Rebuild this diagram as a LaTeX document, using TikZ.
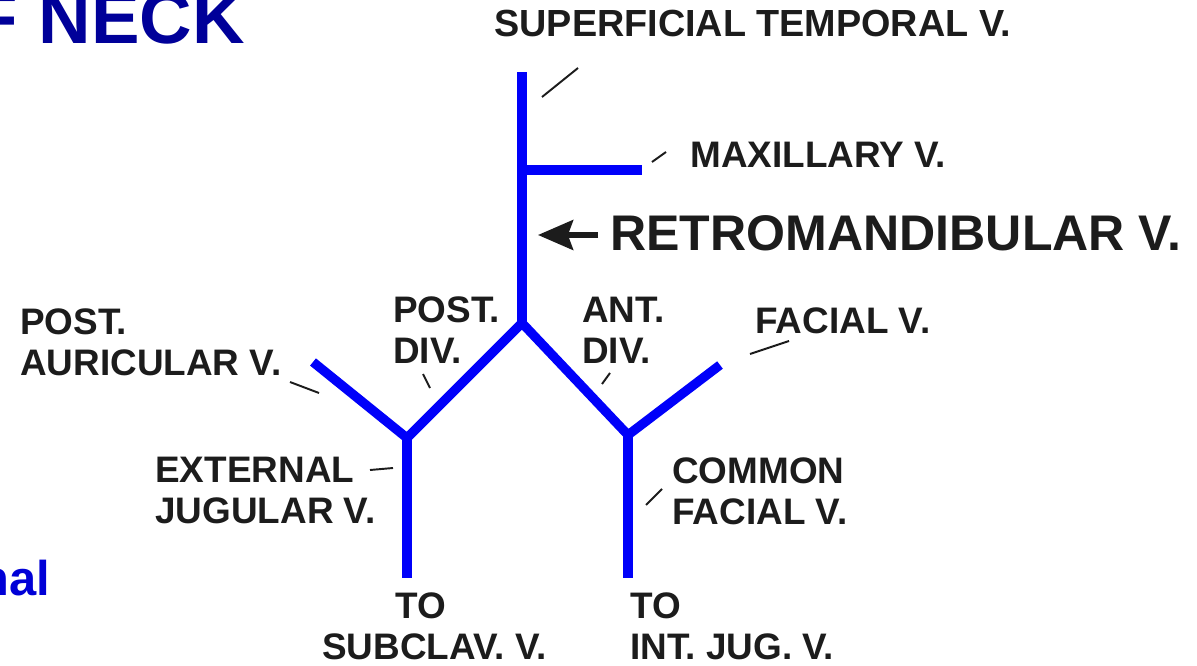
\documentclass[tikz,border=0pt]{standalone}
\usepackage{fontspec}
\setmainfont{Liberation Sans}
\usetikzlibrary{arrows.meta}

\definecolor{vena}{RGB}{0,0,250}
\definecolor{tinta}{RGB}{28,28,28}
\definecolor{titulo}{RGB}{0,0,153}
\definecolor{titulodos}{RGB}{0,0,215}

\begin{document}
\begin{tikzpicture}[x=0.02cm, y=-0.02cm,
	every node/.style={inner sep=0pt, text=tinta, font=\bfseries\fontsize{21pt}{23.2pt}\selectfont},
	rotulo/.style={anchor=base west, align=left},
	grande/.style={font=\bfseries\fontsize{28.5pt}{32pt}\selectfont},
	vena/.style={draw=vena, line width=5.3pt, line join=round},
	guia/.style={draw=tinta, line width=1.1pt}]
	\useasboundingbox (0,0) rectangle (1197,666);
	\clip (0,0) rectangle (1197,666);
	\fill[white] (0,0) rectangle (1197,666);
	% titulos cortados
	\node[anchor=base east, text=titulo, font=\bfseries\fontsize{41.4pt}{45pt}\selectfont] (titulo) at (245,43) {OF NECK};
	\node[anchor=base west, text=titulodos, font=\bfseries\fontsize{27.8pt}{30pt}\selectfont] (pie) at (-21,595) {nal};
	% venas
	\coordinate (tope) at (522,72);
	\coordinate (raizMax) at (522,170);
	\coordinate (extMax) at (642,170);
	\coordinate (tronco) at (522,323);
	\coordinate (juntaIzq) at (407,438);
	\coordinate (juntaDer) at (628,435);
	\coordinate (extAur) at (313,362);
	\coordinate (extFacial) at (720,365);
	\coordinate (finIzq) at (407,578);
	\coordinate (finDer) at (628,578);
	\draw[vena] (tope) -- (tronco);
	\draw[vena] (raizMax) -- (extMax);
	\draw[vena] (extAur) -- (juntaIzq) -- (tronco) -- (juntaDer) -- (extFacial);
	\draw[vena] (juntaIzq) -- (finIzq);
	\draw[vena] (juntaDer) -- (finDer);
	% rotulos (base = ultima linea)
	\node[rotulo, font=\bfseries\fontsize{21.5pt}{23.2pt}\selectfont] (temporal) at (494,36) {SUPERFICIAL TEMPORAL V.};
	\node[rotulo] (maxilar) at (690,167) {MAXILLARY V.};
	\node[rotulo, grande] (retro) at (610,250) {RETROMANDIBULAR V.};
	\node[rotulo] (auricular) at (20,375) {POST.\\AURICULAR V.};
	\node[rotulo] (divPost) at (393,363) {POST.\\DIV.};
	\node[rotulo] (divAnt) at (582,363) {ANT.\\DIV.};
	\node[rotulo] (facial) at (755,333) {FACIAL V.};
	\node[rotulo] (externa) at (155,523) {EXTERNAL\\JUGULAR V.};
	\node[rotulo] (comun) at (672,524) {COMMON\\FACIAL V.};
	\node[rotulo] (subclavia) at (322,659) {\hspace*{1.46cm}TO\\SUBCLAV. V.};
	\node[rotulo] (interna) at (630,659) {TO\\INT. JUG. V.};
	% flecha
	\coordinate (flechaCola) at (598,235);
	\coordinate (flechaPunta) at (538,235);
	\draw[tinta, line width=3pt, -{Stealth[length=20pt, width=17pt, inset=3pt]}] (flechaCola) -- (flechaPunta);
	% lineas guia
	\coordinate (gTemporalA) at (542,97);
	\coordinate (gTemporalB) at (578,68);
	\coordinate (gMaxilarA) at (652,162);
	\coordinate (gMaxilarB) at (666,152);
	\coordinate (gAuricularA) at (290,382);
	\coordinate (gAuricularB) at (319,393);
	\coordinate (gPostA) at (423,374);
	\coordinate (gPostB) at (430,388);
	\coordinate (gAntA) at (610,373);
	\coordinate (gAntB) at (602,384);
	\coordinate (gFacialA) at (750,354);
	\coordinate (gFacialB) at (789,341);
	\coordinate (gExternaA) at (370,470);
	\coordinate (gExternaB) at (393,468);
	\coordinate (gComunA) at (646,505);
	\coordinate (gComunB) at (662,489);
	\draw[guia] (gTemporalA) -- (gTemporalB);
	\draw[guia] (gMaxilarA) -- (gMaxilarB);
	\draw[guia] (gAuricularA) -- (gAuricularB);
	\draw[guia] (gPostA) -- (gPostB);
	\draw[guia] (gAntA) -- (gAntB);
	\draw[guia] (gFacialA) -- (gFacialB);
	\draw[guia] (gExternaA) -- (gExternaB);
	\draw[guia] (gComunA) -- (gComunB);
\end{tikzpicture}
\end{document}
